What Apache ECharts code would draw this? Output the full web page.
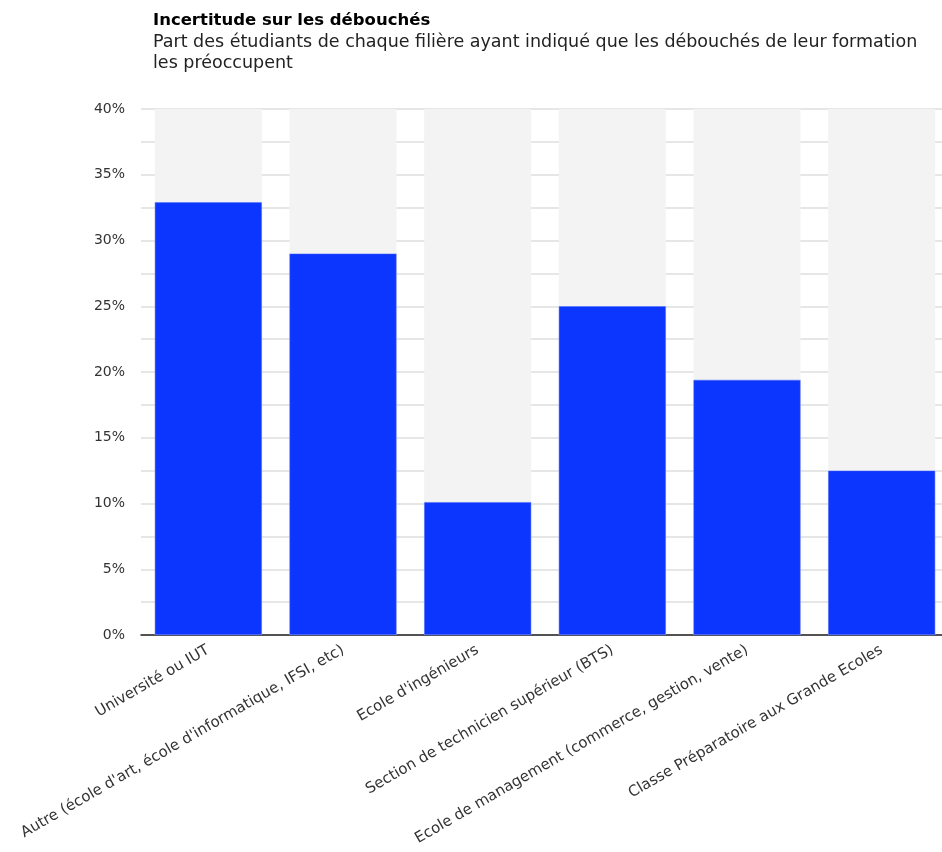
<!DOCTYPE html>
<html>
<head>
<meta charset="utf-8">
<script src="https://cdn.jsdelivr.net/npm/echarts@6/dist/echarts.min.js"></script>
<style>
  html, body { margin: 0; padding: 0; background: #fff; }
  #chart { width: 942px; height: 852px; }
</style>
</head>
<body>
<div id="chart"></div>
<script>
// Filières and the share of students worried about job prospects (%)
const categories = [
  "Université ou IUT",
  "Autre (école d'art, école d'informatique, IFSI, etc)",
  "Ecole d'ingénieurs",
  "Section de technicien supérieur (BTS)",
  "Ecole de management (commerce, gestion, vente)",
  "Classe Préparatoire aux Grande Ecoles"
];
const shares = [32.9, 29.0, 10.1, 25.0, 19.4, 12.5];
const yTicks = [0, 5, 10, 15, 20, 25, 30, 35, 40];

const FONT = "'DejaVu Sans', 'Noto Sans', sans-serif";

const chart = echarts.init(document.getElementById('chart'), null, { renderer: 'canvas' });
chart.setOption({
  animation: false,
  textStyle: { fontFamily: FONT },
  title: {
    text: 'Incertitude sur les débouchés',
    subtext: 'Part des étudiants de chaque filière ayant indiqué que les débouchés de leur formation\nles préoccupent',
    left: 153,
    top: 12,
    padding: 0,
    itemGap: 3,
    textStyle: { fontFamily: FONT, fontSize: 16.5, fontWeight: 'bold', color: '#000' },
    subtextStyle: { fontFamily: FONT, fontSize: 17.5, color: '#222', lineHeight: 21 }
  },
  // the plot runs a few pixels past the right edge of the page
  grid: { left: 141, width: 808, top: 109, bottom: 217, outerBoundsMode: 'none', containLabel: false },
  xAxis: {
    type: 'category',
    data: categories,
    axisLine: { show: true, lineStyle: { color: '#222', width: 1.5 } },
    axisTick: { show: false },
    axisLabel: {
      rotate: 30,
      interval: 0,
      margin: 14,
      fontSize: 15,
      color: '#333',
      fontFamily: FONT
    }
  },
  yAxis: {
    type: 'value',
    min: yTicks[0],
    max: yTicks[yTicks.length - 1],
    interval: 5,
    axisLine: { show: false },
    axisTick: { show: false },
    minorTick: { show: false, splitNumber: 2 },
    splitLine: { show: true, lineStyle: { color: '#dedede', width: 1.5 } },
    minorSplitLine: { show: true, lineStyle: { color: '#dedede', width: 1.5 } },
    axisLabel: {
      margin: 16,
      fontSize: 14,
      color: '#333',
      fontFamily: FONT,
      formatter: v => v + '%'
    }
  },
  series: [{
    type: 'bar',
    data: shares,
    barWidth: 107,
    showBackground: true,
    backgroundStyle: { color: '#f3f3f3' },
    itemStyle: { color: '#0c36fd', borderColor: '#4f6dfb', borderWidth: 0.5 }
  }]
});
</script>
</body>
</html>
